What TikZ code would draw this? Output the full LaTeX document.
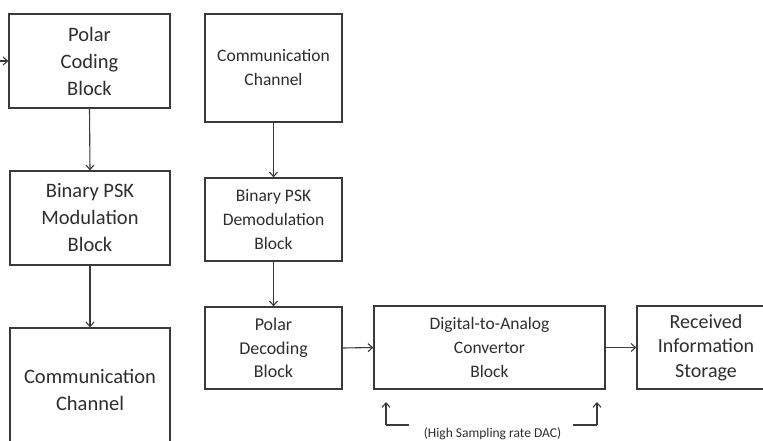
\documentclass[tikz,border=0pt]{standalone}
\usepackage{fontspec}
\setmainfont{Carlito}
\usetikzlibrary{arrows.meta}
\definecolor{ln}{HTML}{3A3A3A}
\definecolor{tx}{HTML}{2E2E2E}
\begin{document}
\begin{tikzpicture}[x=1pt,y=-1pt,
  box/.style={draw=ln, line width=1.3pt, text=tx, align=center, inner sep=0pt},
  big/.style={font=\fontsize{20.5}{27}\selectfont},
  mid/.style={font=\fontsize{17.5}{24}\selectfont},
  arr/.style={draw=ln, line width=1.1pt, -{Straight Barb[length=4.5pt,width=8pt]}},
  ln/.style={draw=ln, line width=1.1pt}]
\clip (0,0) rectangle (763,441);
\fill[white] (0,0) rectangle (763,441);
% left column
\node[box,big,minimum width=161pt,minimum height=94pt] (pc) at (89.5,61) {Polar\\Coding\\Block};
\node[box,big,minimum width=160pt,minimum height=94pt] (mod) at (90,218) {Binary PSK\\Modulation\\Block};
\node[box,big,minimum width=160pt,minimum height=124pt] (cc1) at (90,390) {Communication\\Channel};
\coordinate (in) at (0,61);
\draw[arr] (in) -- (pc.west);
\draw[arr] (pc.south) -- (mod.north);
\draw[arr] (mod.south) -- (cc1.north);
% center column
\node[box,mid,minimum width=137pt,minimum height=108pt] (cc2) at (273.5,68) {Communication\\Channel};
\node[box,mid,minimum width=137pt,minimum height=83pt] (dem) at (273.5,219.5) {Binary PSK\\Demodulation\\Block};
\node[box,mid,font=\fontsize{18}{23.5}\selectfont,minimum width=137pt,minimum height=82pt] (pd) at (273.5,348) {Polar\\Decoding\\Block};
\draw[arr] (cc2.south) -- (dem.north);
\draw[arr] (dem.south) -- (pd.north);
% right row
\node[box,mid,minimum width=231pt,minimum height=83pt] (dac) at (489.5,347.5) {Digital-to-Analog\\Convertor\\Block};
\node[box,font=\fontsize{20}{24.5}\selectfont,minimum width=138pt,minimum height=83pt] (rx) at (706,347.5) {Received\\Information\\Storage};
\draw[arr] (pd.east) -- (dac.west);
\draw[arr] (dac.east) -- (rx.west);
% DAC note
\node[text=tx,font=\fontsize{13.5}{16}\selectfont,inner sep=0pt] (hs) at (492.5,434) {(High Sampling rate DAC)};
\coordinate (l1) at (409,425);
\coordinate (l2) at (386,425);
\coordinate (l3) at (386,402);
\coordinate (r1) at (573,425);
\coordinate (r2) at (597,425);
\coordinate (r3) at (597,402);
\draw[ln] (l1) -- (l2);
\draw[arr] (l2) -- (l3);
\draw[ln] (r1) -- (r2);
\draw[arr] (r2) -- (r3);
\end{tikzpicture}
\end{document}
